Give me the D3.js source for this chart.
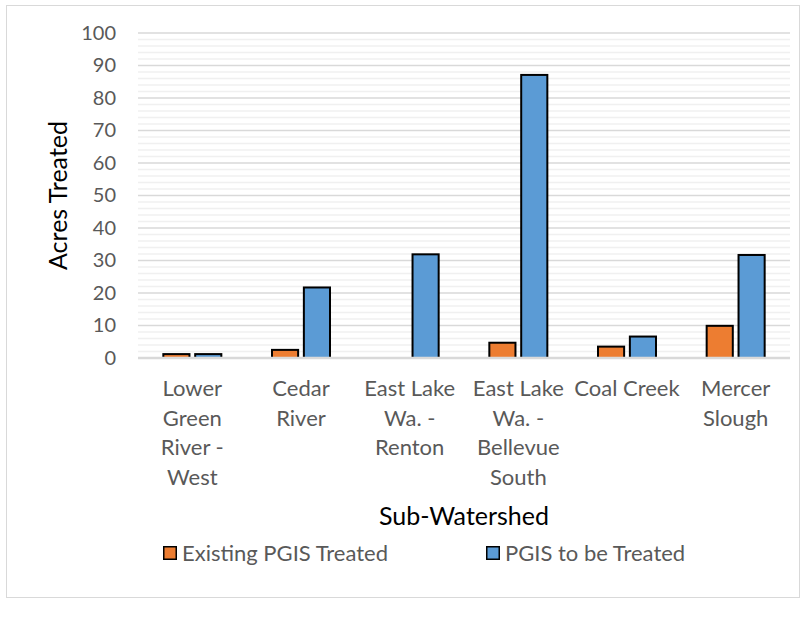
<!DOCTYPE html>
<html>
<head>
<meta charset="utf-8">
<script src="https://cdn.jsdelivr.net/npm/d3@7"></script>
<style>
  html, body { margin: 0; padding: 0; background: #fff; }
  svg { display: block; font-family: Lato, "Open Sans", sans-serif; }
</style>
</head>
<body>
<svg id="chart" width="809" height="625"></svg>
<script>
// Sub-watershed categories (each line of the label as its own entry)
const categories = [
  ["Lower", "Green", "River -", "West"],
  ["Cedar", "River"],
  ["East Lake", "Wa. -", "Renton"],
  ["East Lake", "Wa. -", "Bellevue", "South"],
  ["Coal Creek"],
  ["Mercer", "Slough"]
];
const existingTreated = [1.2, 2.5, 0, 4.7, 3.5, 9.9];
const toBeTreated = [1.2, 21.7, 31.9, 87.1, 6.6, 31.7];
const seriesNames = ["Existing PGIS Treated", "PGIS to be Treated"];
const seriesColors = ["#ED7D31", "#5B9BD5"];
const yTicks = [0, 10, 20, 30, 40, 50, 60, 70, 80, 90, 100];
const yMinorTicks = d3.range(0, 101, 2);

const svg = d3.select("#chart");

// Chart frame
svg.append("rect")
  .attr("x", 6.5).attr("y", 5.5)
  .attr("width", 793).attr("height", 592)
  .attr("fill", "#fff").attr("stroke", "#d9d9d9").attr("stroke-width", 1);

const plot = { left: 138, right: 790, top: 33, bottom: 358 };

const x = d3.scaleBand()
  .domain(d3.range(categories.length))
  .range([plot.left, plot.right]);

const inner = d3.scaleBand()
  .domain([0, 1])
  .range([x.bandwidth() / 2 - 29, x.bandwidth() / 2 + 29])
  .paddingInner(0.18);

const y = d3.scaleLinear().domain([0, 100]).range([plot.bottom, plot.top]);

// Minor gridlines
svg.append("g")
  .selectAll("line")
  .data(yMinorTicks.filter(d => d % 10 !== 0))
  .join("line")
  .attr("x1", plot.left).attr("x2", plot.right)
  .attr("y1", d => y(d)).attr("y2", d => y(d))
  .attr("stroke", "#f0f0f0").attr("stroke-width", 1.5);

// Major gridlines
svg.append("g")
  .selectAll("line")
  .data(yTicks.filter(d => d !== 0))
  .join("line")
  .attr("x1", plot.left).attr("x2", plot.right)
  .attr("y1", d => y(d)).attr("y2", d => y(d))
  .attr("stroke", "#d9d9d9").attr("stroke-width", 1.5);

// Y axis tick labels
const yAxis = svg.append("g")
  .attr("transform", `translate(${plot.left - 22},0)`)
  .call(d3.axisLeft(y).tickValues(yTicks).tickSize(0).tickPadding(0));
yAxis.select(".domain").remove();
yAxis.selectAll("text")
  .attr("fill", "#595959")
  .style("font-size", "20px")
  .style("font-family", "Lato, 'Open Sans', sans-serif");

// Bars, one group per series
const series = [existingTreated, toBeTreated];
series.forEach((vals, si) => {
  svg.append("g")
    .selectAll("rect")
    .data(vals.map((v, i) => ({ v, i })).filter(d => d.v > 0))
    .join("rect")
    .attr("x", d => x(d.i) + inner(si))
    .attr("width", inner.bandwidth())
    .attr("y", d => y(d.v))
    .attr("height", d => y(0) - y(d.v))
    .attr("fill", seriesColors[si])
    .attr("stroke", "#000")
    .attr("stroke-width", 2);
});

// Baseline axis
svg.append("line")
  .attr("x1", plot.left).attr("x2", plot.right)
  .attr("y1", y(0)).attr("y2", y(0))
  .attr("stroke", "#d9d9d9").attr("stroke-width", 2.5);

// Category labels
const catG = svg.append("g");
categories.forEach((lines, i) => {
  const cx = x(i) + x.bandwidth() / 2;
  const t = catG.append("text")
    .attr("x", cx)
    .attr("y", 396)
    .attr("text-anchor", "middle")
    .attr("fill", "#595959")
    .style("font-size", "22px");
  lines.forEach((ln, k) => {
    t.append("tspan")
      .attr("x", cx)
      .attr("dy", k === 0 ? 0 : 29.5)
      .text(ln);
  });
});

// Axis titles
svg.append("text")
  .attr("transform", `translate(67,${(plot.top + plot.bottom) / 2}) rotate(-90)`)
  .attr("text-anchor", "middle")
  .attr("fill", "#000")
  .style("font-size", "25px")
  .text("Acres Treated");

svg.append("text")
  .attr("x", (plot.left + plot.right) / 2)
  .attr("y", 525)
  .attr("text-anchor", "middle")
  .attr("fill", "#000")
  .style("font-size", "25px")
  .text("Sub-Watershed");

// Legend
const legendX = [163, 486];
seriesNames.forEach((name, si) => {
  const g = svg.append("g").attr("transform", `translate(${legendX[si]},546)`);
  g.append("rect")
    .attr("x", 0.75).attr("y", 0.75)
    .attr("width", 12.5).attr("height", 12.5)
    .attr("fill", seriesColors[si])
    .attr("stroke", "#000").attr("stroke-width", 1.5);
  g.append("text")
    .attr("x", 19).attr("y", 15)
    .attr("fill", "#595959")
    .style("font-size", "22px")
    .text(name);
});
</script>
</body>
</html>
